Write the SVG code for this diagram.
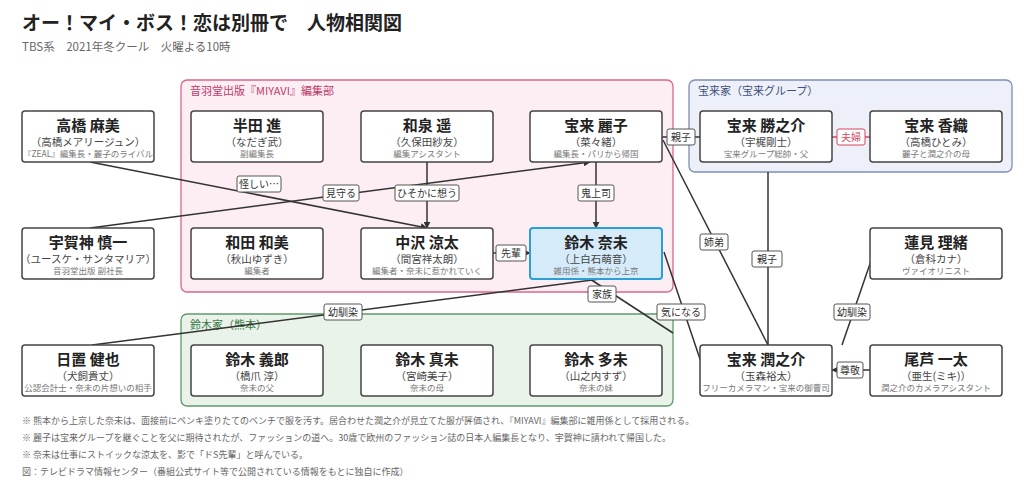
<svg xmlns="http://www.w3.org/2000/svg" width="1024" height="491" viewBox="0 0 1024 491">
<defs>
<marker id="ar" viewBox="0 0 10 10" refX="9" refY="5" markerWidth="7" markerHeight="7" orient="auto" markerUnits="userSpaceOnUse"><path d="M0,0L10,5L0,10z" fill="#333"/></marker>
<style>
text{font-family:"Noto Sans CJK JP","Noto Sans",sans-serif}
.n rect{fill:#fff;stroke:#444;stroke-width:1.5}
.nm{font-size:15px;font-weight:bold;fill:#222;text-anchor:middle}
.ac{font-size:10.5px;fill:#444;text-anchor:middle}
.ro{font-size:8.5px;fill:#777;text-anchor:middle}
.c line{stroke:#333;stroke-width:1.5;fill:none}
.lb rect{fill:#fff;stroke:#555;stroke-width:1}
.lb text{font-size:10px;fill:#333;text-anchor:middle}
.note{font-size:9px;fill:#666}
</style>
</defs>
<rect width="1024" height="491" fill="#fff"/>
<text x="22" y="30" font-size="19" font-weight="bold" fill="#222">オー！マイ・ボス！恋は別冊で　人物相関図</text>
<text x="22" y="51" font-size="11.5" fill="#666">TBS系　2021年冬クール　火曜よる10時</text>

<g id="groups">
<rect x="181" y="80" width="492" height="212" rx="6" fill="#fdeef3" stroke="#d9668f" stroke-width="1.3"/>
<text x="190" y="95" font-size="11" fill="#c0396b">音羽堂出版『MIYAVI』編集部</text>
<rect x="689" y="80" width="323" height="92" rx="6" fill="#edf0f8" stroke="#7f8db4" stroke-width="1.3"/>
<text x="698" y="95" font-size="11" fill="#3d4f7a">宝来家（宝来グループ）</text>
<rect x="181" y="314" width="492" height="92" rx="6" fill="#e9f3ea" stroke="#5f9a6a" stroke-width="1.3"/>
<text x="190" y="329" font-size="11" fill="#3d7a48">鈴木家（熊本）</text>
</g>

<g id="connectors" class="c">
<line x1="90" y1="162" x2="427" y2="228" marker-end="url(#ar)"/>
<line x1="90" y1="228" x2="590" y2="162" marker-end="url(#ar)"/>
<line x1="427" y1="162" x2="427" y2="228" marker-end="url(#ar)"/>
<line x1="596" y1="162" x2="596" y2="228" marker-end="url(#ar)"/>
<line x1="493" y1="253" x2="530" y2="253" marker-end="url(#ar)"/>
<line x1="662" y1="137" x2="700" y2="137"/>
<line x1="832" y1="137" x2="870" y2="137" style="stroke:#d9455f"/>
<line x1="663" y1="140" x2="768" y2="345"/>
<line x1="768" y1="172" x2="768" y2="345"/>
<line x1="872" y1="258" x2="842" y2="345"/>
<line x1="870" y1="370" x2="832" y2="370" marker-end="url(#ar)"/>
<line x1="664" y1="252" x2="703" y2="368"/>
<line x1="590" y1="279" x2="673" y2="333"/>
<line x1="600" y1="279" x2="92" y2="345"/>
</g>

<g id="labels" class="lb">
<rect x="237" y="176" width="44" height="16" rx="2"/><text x="259" y="188">怪しい…</text>
<rect x="323" y="185" width="36" height="16" rx="2"/><text x="341" y="197">見守る</text>
<rect x="395" y="185" width="64" height="16" rx="2"/><text x="427" y="197">ひそかに想う</text>
<rect x="578" y="185" width="36" height="16" rx="2"/><text x="596" y="197">鬼上司</text>
<rect x="496" y="245" width="30" height="16" rx="2"/><text x="511" y="257">先輩</text>
<rect x="667" y="129" width="28" height="16" rx="2"/><text x="681" y="141">親子</text>
<rect x="837" y="129" width="28" height="16" rx="2" style="stroke:#d9455f"/><text x="851" y="141" style="fill:#d9455f">夫婦</text>
<rect x="700" y="234" width="28" height="16" rx="2"/><text x="714" y="246">姉弟</text>
<rect x="752" y="251" width="30" height="16" rx="2"/><text x="767" y="263">親子</text>
<rect x="834" y="304" width="36" height="16" rx="2"/><text x="852" y="316">幼馴染</text>
<rect x="837" y="362" width="26" height="16" rx="2"/><text x="850" y="374">尊敬</text>
<rect x="657" y="304" width="48" height="16" rx="2"/><text x="681" y="316">気になる</text>
<rect x="588" y="286" width="28" height="16" rx="2"/><text x="602" y="298">家族</text>
<rect x="324" y="304" width="38" height="16" rx="2"/><text x="343" y="316">幼馴染</text>
</g>

<g id="n-asami" class="n"><rect x="22" y="111" width="132" height="51" rx="3"/><text class="nm" x="88" y="131">高橋 麻美</text><text class="ac" x="88" y="146">（高橋メアリージュン）</text><text class="ro" x="88" y="157">『ZEAL』編集長・麗子のライバル</text></g>
<g id="n-handa" class="n"><rect x="191" y="111" width="132" height="51" rx="3"/><text class="nm" x="257" y="131">半田 進</text><text class="ac" x="257" y="146">（なだぎ武）</text><text class="ro" x="257" y="157">副編集長</text></g>
<g id="n-izumi" class="n"><rect x="361" y="111" width="132" height="51" rx="3"/><text class="nm" x="427" y="131">和泉 遥</text><text class="ac" x="427" y="146">（久保田紗友）</text><text class="ro" x="427" y="157">編集アシスタント</text></g>
<g id="n-reiko" class="n"><rect x="530" y="111" width="132" height="51" rx="3"/><text class="nm" x="596" y="131">宝来 麗子</text><text class="ac" x="596" y="146">（菜々緒）</text><text class="ro" x="596" y="157">編集長・パリから帰国</text></g>
<g id="n-katsunosuke" class="n"><rect x="700" y="111" width="132" height="51" rx="3"/><text class="nm" x="766" y="131">宝来 勝之介</text><text class="ac" x="766" y="146">（宇梶剛士）</text><text class="ro" x="766" y="157">宝来グループ総帥・父</text></g>
<g id="n-kaori" class="n"><rect x="870" y="111" width="132" height="51" rx="3"/><text class="nm" x="936" y="131">宝来 香織</text><text class="ac" x="936" y="146">（高橋ひとみ）</text><text class="ro" x="936" y="157">麗子と潤之介の母</text></g>
<g id="n-ugajin" class="n"><rect x="22" y="228" width="132" height="51" rx="3"/><text class="nm" x="88" y="248">宇賀神 慎一</text><text class="ac" x="88" y="263">（ユースケ・サンタマリア）</text><text class="ro" x="88" y="274">音羽堂出版 副社長</text></g>
<g id="n-wada" class="n"><rect x="191" y="228" width="132" height="51" rx="3"/><text class="nm" x="257" y="248">和田 和美</text><text class="ac" x="257" y="263">（秋山ゆずき）</text><text class="ro" x="257" y="274">編集者</text></g>
<g id="n-nakazawa" class="n"><rect x="361" y="228" width="132" height="51" rx="3"/><text class="nm" x="427" y="248">中沢 涼太</text><text class="ac" x="427" y="263">（間宮祥太朗）</text><text class="ro" x="427" y="274">編集者・奈未に惹かれていく</text></g>
<g id="n-nami" class="n"><rect x="530" y="228" width="132" height="51" rx="3" style="fill:#d5ebfa;stroke:#2a9fd8;stroke-width:2"/><text class="nm" x="596" y="248">鈴木 奈未</text><text class="ac" x="596" y="263">（上白石萌音）</text><text class="ro" x="596" y="274">雑用係・熊本から上京</text></g>
<g id="n-hasumi" class="n"><rect x="870" y="228" width="132" height="51" rx="3"/><text class="nm" x="936" y="248">蓮見 理緒</text><text class="ac" x="936" y="263">（倉科カナ）</text><text class="ro" x="936" y="274">ヴァイオリニスト</text></g>
<g id="n-hioki" class="n"><rect x="22" y="345" width="132" height="51" rx="3"/><text class="nm" x="88" y="365">日置 健也</text><text class="ac" x="88" y="380">（犬飼貴丈）</text><text class="ro" x="88" y="391">公認会計士・奈未の片想いの相手</text></g>
<g id="n-yoshiro" class="n"><rect x="191" y="345" width="132" height="51" rx="3"/><text class="nm" x="257" y="365">鈴木 義郎</text><text class="ac" x="257" y="380">（橋爪 淳）</text><text class="ro" x="257" y="391">奈未の父</text></g>
<g id="n-mami" class="n"><rect x="361" y="345" width="132" height="51" rx="3"/><text class="nm" x="427" y="365">鈴木 真未</text><text class="ac" x="427" y="380">（宮崎美子）</text><text class="ro" x="427" y="391">奈未の母</text></g>
<g id="n-tami" class="n"><rect x="530" y="345" width="132" height="51" rx="3"/><text class="nm" x="596" y="365">鈴木 多未</text><text class="ac" x="596" y="380">（山之内すず）</text><text class="ro" x="596" y="391">奈未の妹</text></g>
<g id="n-junnosuke" class="n"><rect x="700" y="345" width="132" height="51" rx="3"/><text class="nm" x="766" y="365">宝来 潤之介</text><text class="ac" x="766" y="380">（玉森裕太）</text><text class="ro" x="766" y="391">フリーカメラマン・宝来の御曹司</text></g>
<g id="n-oashi" class="n"><rect x="870" y="345" width="132" height="51" rx="3"/><text class="nm" x="936" y="365">尾芦 一太</text><text class="ac" x="936" y="380">（亜生(ミキ)）</text><text class="ro" x="936" y="391">潤之介のカメラアシスタント</text></g>

<text class="note" x="22" y="424">※ 熊本から上京した奈未は、面接前にペンキ塗りたてのベンチで服を汚す。居合わせた潤之介が見立てた服が評価され、『MIYAVI』編集部に雑用係として採用される。</text>
<text class="note" x="22" y="441">※ 麗子は宝来グループを継ぐことを父に期待されたが、ファッションの道へ。30歳で欧州のファッション誌の日本人編集長となり、宇賀神に請われて帰国した。</text>
<text class="note" x="22" y="458">※ 奈未は仕事にストイックな涼太を、影で「ドS先輩」と呼んでいる。</text>
<text class="note" x="22" y="475">図：テレビドラマ情報センター（番組公式サイト等で公開されている情報をもとに独自に作成）</text>
</svg>
